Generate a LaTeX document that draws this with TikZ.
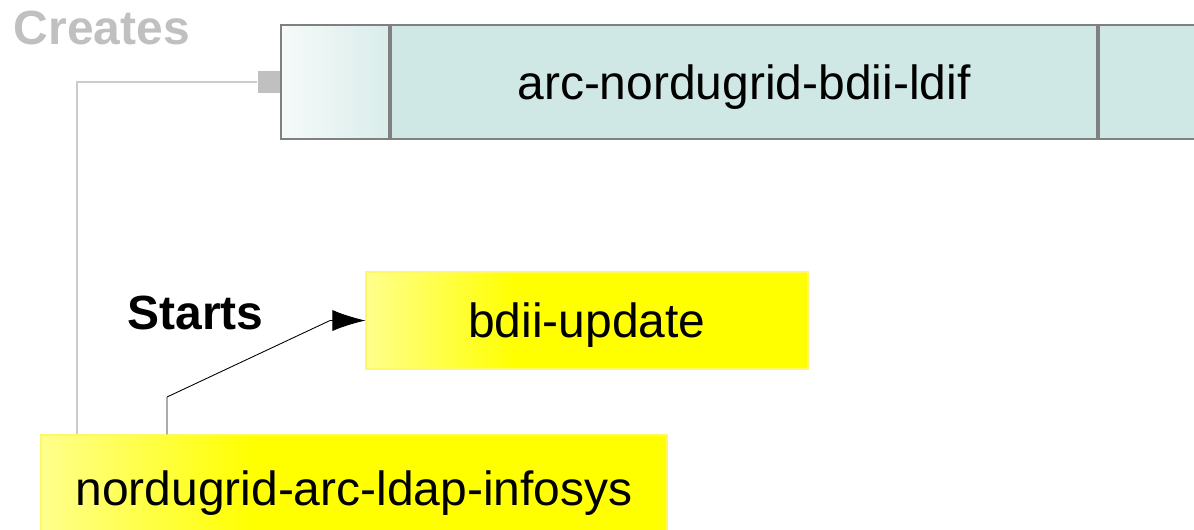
\documentclass[tikz,border=0pt]{standalone}
\usepackage{fontspec}
\setmainfont{Liberation Sans}
\usetikzlibrary{arrows.meta, positioning}
\definecolor{tealbox}{HTML}{D0E8E5}
\definecolor{boxline}{HTML}{808080}
\definecolor{wireline}{HTML}{CCCCCC}
\definecolor{labelgray}{HTML}{C0C0C0}
\pgfdeclarehorizontalshading{glossy}{100bp}{color(0bp)=(yellow!45!white); color(25bp)=(yellow!45!white); color(42bp)=(yellow); color(100bp)=(yellow)}
\tikzstyle{bigtext} = [font=\fontsize{27.3}{32}\selectfont]
\tikzstyle{cell} = [draw=boxline, line width=1.1pt, fill=tealbox, minimum height=2.28cm, inner sep=0pt, text depth=0pt, bigtext]
\tikzstyle{proc} = [draw=yellow!60!white, line width=0.6pt, shading=glossy, inner sep=0pt, text depth=0pt, bigtext]

\begin{document}
\begin{tikzpicture}[>=Latex]
    \useasboundingbox (0,0) rectangle (23.88,-10.58);
    \node[cell, minimum width=14.12cm] (ldif) at (14.88,-1.64) {arc-nordugrid-bdii-ldif};
    \node[cell, minimum width=2.16cm, left=0pt of ldif, left color=tealbox!20!white, right color=tealbox!80!white] (ldifl) {};
    \node[cell, minimum width=2.6cm, right=0pt of ldif] (ldifr) {};
    \node[fill=labelgray, minimum size=0.44cm, inner sep=0pt, left=0pt of ldifl] (port) {};
    \node[font=\fontsize{27.3}{32}\selectfont\bfseries, text=labelgray] (creates) at (2.04,-0.56) {Creates};
    \node[proc, minimum width=8.84cm, minimum height=1.94cm] (update) at (11.74,-6.41) {bdii-update};
    \node[proc, minimum width=12.52cm, minimum height=2.12cm] (infosys) at (7.08,-9.76) {nordugrid-arc-ldap-infosys};
    \node[font=\fontsize{27.3}{32}\selectfont\bfseries] (starts) at (3.91,-6.25) {Starts};
    \coordinate (bend) at (3.34,-7.94);
    \draw[wireline, line width=0.8pt] (port.west) -| ([xshift=-5.54cm]infosys.north);
    \draw[boxline, line width=0.6pt] ([xshift=-3.74cm]infosys.north) -- (bend);
    \draw[->, line width=0.5pt, arrows={-Latex[length=6.6mm, width=4.2mm]}] (bend) -- (6.6,-6.41) -- (update.west);
\end{tikzpicture}
\end{document}
